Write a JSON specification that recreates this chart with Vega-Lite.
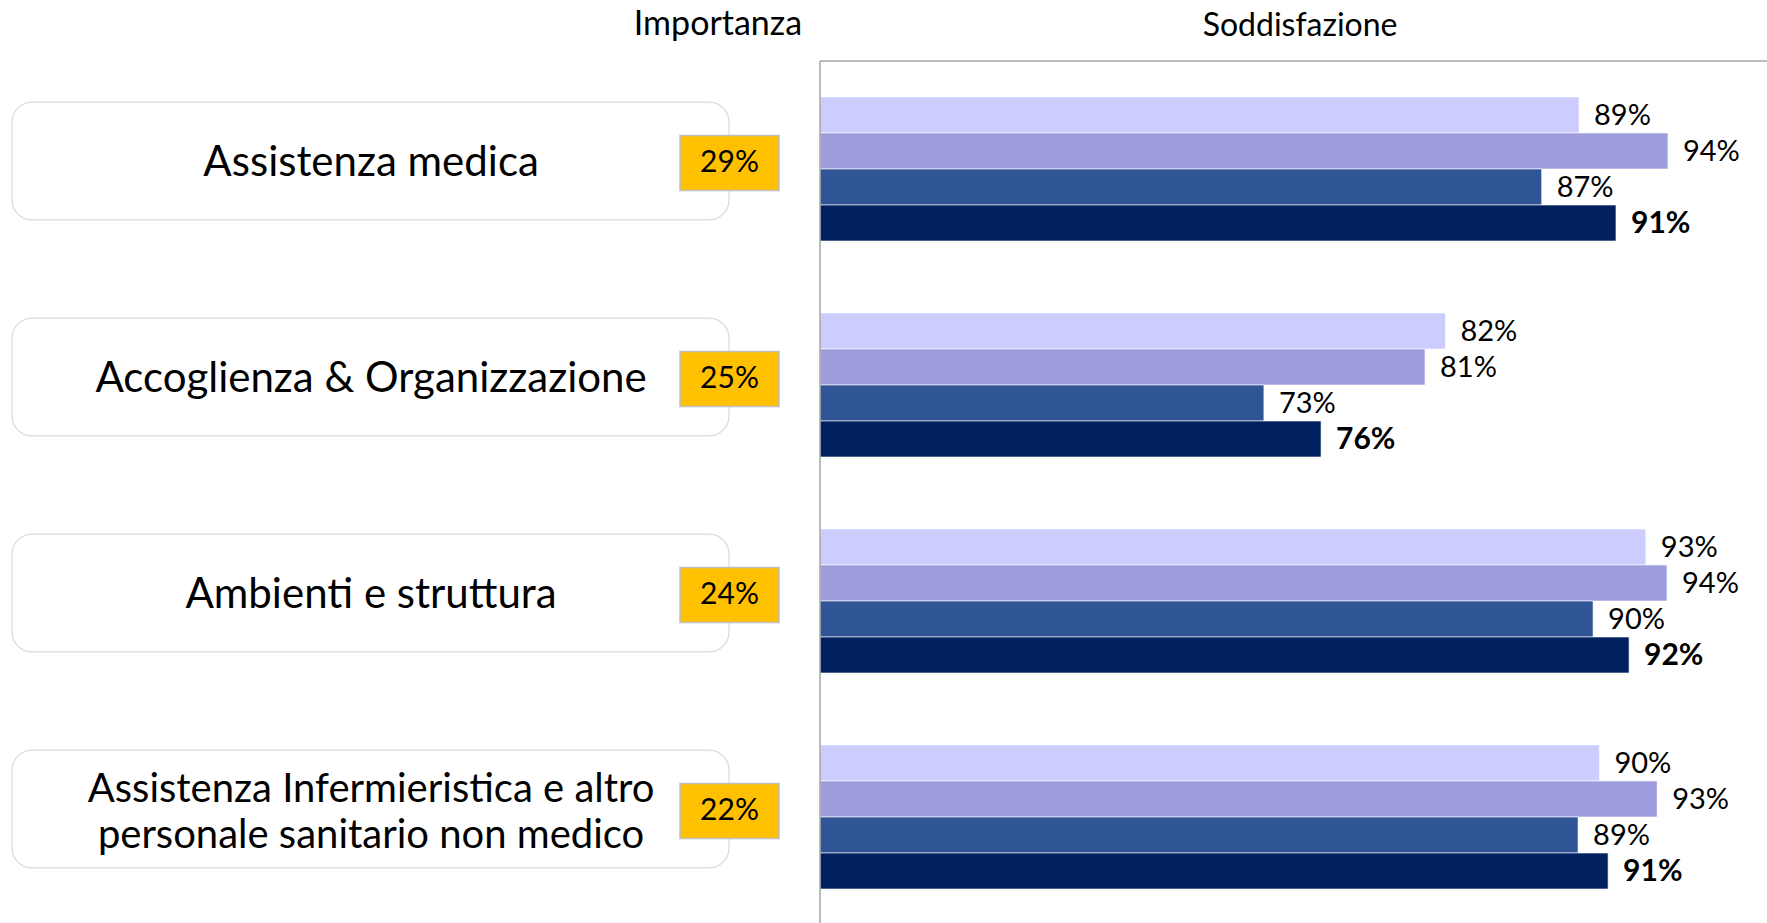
{
  "$schema": "https://vega.github.io/schema/vega-lite/v6.json",
  "autosize": "none",
  "width": 1767,
  "height": 864,
  "padding": {"left": 0, "top": 61, "right": 0, "bottom": 0},
  "background": "white",
  "config": {"view": {"stroke": null}, "font": "Lato"},
  "datasets": {
    "bars": [
      {"area": "Assistenza medica", "serie": "S1", "value": 0.8943},
      {"area": "Assistenza medica", "serie": "S2", "value": 0.9405},
      {"area": "Assistenza medica", "serie": "S3", "value": 0.8749},
      {"area": "Assistenza medica", "serie": "S4", "value": 0.9135},
      {"area": "Accoglienza & Organizzazione", "serie": "S1", "value": 0.8249},
      {"area": "Accoglienza & Organizzazione", "serie": "S2", "value": 0.8143},
      {"area": "Accoglienza & Organizzazione", "serie": "S3", "value": 0.7306},
      {"area": "Accoglienza & Organizzazione", "serie": "S4", "value": 0.7603},
      {"area": "Ambienti e struttura", "serie": "S1", "value": 0.929},
      {"area": "Ambienti e struttura", "serie": "S2", "value": 0.94},
      {"area": "Ambienti e struttura", "serie": "S3", "value": 0.9016},
      {"area": "Ambienti e struttura", "serie": "S4", "value": 0.9203},
      {"area": "Assistenza Infermieristica", "serie": "S1", "value": 0.9049},
      {"area": "Assistenza Infermieristica", "serie": "S2", "value": 0.9349},
      {"area": "Assistenza Infermieristica", "serie": "S3", "value": 0.8938},
      {"area": "Assistenza Infermieristica", "serie": "S4", "value": 0.9094}
    ],
    "areas": [
      {"area": "Assistenza medica", "label": "Assistenza medica", "importanza": 0.29},
      {"area": "Accoglienza & Organizzazione", "label": "Accoglienza & Organizzazione", "importanza": 0.25},
      {"area": "Ambienti e struttura", "label": "Ambienti e struttura", "importanza": 0.24},
      {"area": "Assistenza Infermieristica", "label": "Assistenza Infermieristica e altro\npersonale sanitario non medico", "importanza": 0.22}
    ]
  },
  "encoding": {
    "y": {
      "field": "area",
      "type": "nominal",
      "axis": null,
      "scale": {
        "domain": ["Assistenza medica", "Accoglienza & Organizzazione", "Ambienti e struttura", "Assistenza Infermieristica"],
        "paddingInner": 0,
        "paddingOuter": 0
      }
    }
  },
  "layer": [
    {
      "data": {"name": "areas"},
      "mark": {"type": "rect", "height": {"band": 0.546}, "yOffset": -8, "fill": "white", "stroke": "#D9D9D9", "strokeWidth": 1.2, "cornerRadius": 20},
      "encoding": {
        "x": {"datum": 0.0803, "type": "quantitative", "scale": {"domain": [0.07403, 0.99195], "nice": false, "zero": false}, "axis": null},
        "x2": {"datum": 0.4527}
      }
    },
    {
      "data": {"name": "areas"},
      "mark": {"type": "rect", "height": {"band": 0.255}, "yOffset": -6, "fill": "#FFC000", "stroke": "#BFBFBF", "strokeWidth": 1.5},
      "encoding": {
        "x": {"datum": 0.4273, "type": "quantitative"},
        "x2": {"datum": 0.4787}
      }
    },
    {
      "data": {"name": "areas"},
      "transform": [{"filter": "datum.area != 'Assistenza Infermieristica'"}],
      "mark": {"type": "text", "fontSize": 42, "align": "center", "baseline": "middle", "yOffset": -6, "color": "black"},
      "encoding": {
        "x": {"datum": 0.2668, "type": "quantitative"},
        "text": {"field": "label", "type": "nominal"}
      }
    },
    {
      "data": {"name": "areas"},
      "transform": [{"filter": "datum.area == 'Assistenza Infermieristica'"}],
      "mark": {"type": "text", "fontSize": 40, "align": "center", "baseline": "middle", "lineBreak": "\n", "lineHeight": 46, "yOffset": -6, "dy": -21, "color": "black"},
      "encoding": {
        "x": {"datum": 0.2668, "type": "quantitative"},
        "text": {"field": "label", "type": "nominal"}
      }
    },
    {
      "data": {"name": "areas"},
      "mark": {"type": "text", "fontSize": 30, "align": "center", "baseline": "middle", "yOffset": -6, "color": "black"},
      "encoding": {
        "x": {"datum": 0.453, "type": "quantitative"},
        "text": {"field": "importanza", "type": "quantitative", "format": ".0%"}
      }
    },
    {
      "data": {"name": "bars"},
      "mark": {"type": "bar", "stroke": "white", "strokeWidth": 0.6},
      "encoding": {
        "x": {"field": "value", "type": "quantitative"},
        "x2": {"datum": 0.5},
        "yOffset": {"field": "serie", "type": "nominal", "scale": {"paddingInner": 0, "paddingOuter": 1.086}},
        "color": {
          "field": "serie",
          "type": "nominal",
          "legend": null,
          "scale": {"domain": ["S1", "S2", "S3", "S4"], "range": ["#CCCCFF", "#9E9DDD", "#2F5597", "#002060"]}
        }
      }
    },
    {
      "data": {"name": "bars"},
      "transform": [{"filter": "datum.serie != 'S4'"}],
      "mark": {"type": "text", "fontSize": 29, "align": "left", "baseline": "middle", "dx": 15, "dy": 1, "color": "black"},
      "encoding": {
        "x": {"field": "value", "type": "quantitative"},
        "yOffset": {"field": "serie", "type": "nominal"},
        "text": {"field": "value", "type": "quantitative", "format": ".0%"}
      }
    },
    {
      "data": {"name": "bars"},
      "transform": [{"filter": "datum.serie == 'S4'"}],
      "mark": {"type": "text", "fontSize": 30, "fontWeight": "bold", "align": "left", "baseline": "middle", "dx": 15, "dy": 1, "color": "black"},
      "encoding": {
        "x": {"field": "value", "type": "quantitative"},
        "yOffset": {"field": "serie", "type": "nominal"},
        "text": {"field": "value", "type": "quantitative", "format": ".0%"}
      }
    },
    {
      "data": {"values": [{}]},
      "mark": {"type": "rule", "color": "#A6A6A6", "strokeWidth": 1.5},
      "encoding": {
        "x": {"datum": 0.5, "type": "quantitative"},
        "y": {"value": 0},
        "y2": {"value": 864}
      }
    },
    {
      "data": {"values": [{}]},
      "mark": {"type": "rule", "color": "#A6A6A6", "strokeWidth": 1.5},
      "encoding": {
        "x": {"datum": 0.5, "type": "quantitative"},
        "x2": {"datum": 0.99195},
        "y": {"value": 0}
      }
    },
    {
      "data": {"values": [{"header": "Importanza"}]},
      "mark": {"type": "text", "fontSize": 34, "align": "center", "baseline": "middle", "color": "black"},
      "encoding": {
        "x": {"datum": 0.447, "type": "quantitative"},
        "y": {"value": -36},
        "text": {"field": "header", "type": "nominal"}
      }
    },
    {
      "data": {"values": [{"header": "Soddisfazione"}]},
      "mark": {"type": "text", "fontSize": 32, "align": "center", "baseline": "alphabetic", "color": "black"},
      "encoding": {
        "x": {"datum": 0.7494, "type": "quantitative"},
        "y": {"value": -25},
        "text": {"field": "header", "type": "nominal"}
      }
    }
  ]
}
